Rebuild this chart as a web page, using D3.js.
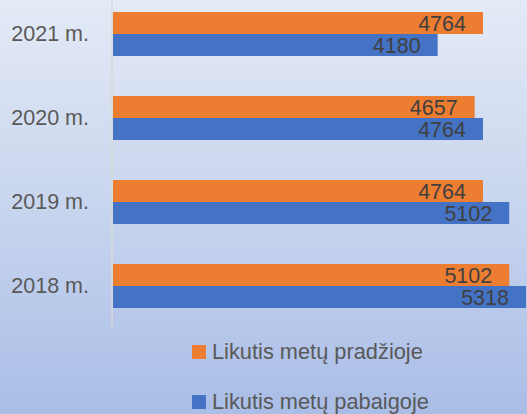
<!DOCTYPE html>
<html>
<head>
<meta charset="utf-8">
<script src="https://cdn.jsdelivr.net/npm/d3@7"></script>
<style>
  html, body { margin: 0; padding: 0; }
  body { width: 527px; height: 414px; overflow: hidden; }
  svg { display: block; font-family: "Liberation Sans", Arial, sans-serif; }
</style>
</head>
<body>
<div id="chart"></div>
<script>
// years, top to bottom as drawn
var categories = ["2021 m.", "2020 m.", "2019 m.", "2018 m."];
var seriesNames = ["Likutis metų pradžioje", "Likutis metų pabaigoje"];
var startValues = [4764, 4657, 4764, 5102];
var endValues = [4180, 4764, 5102, 5318];
var colors = ["#ed7d31", "#4472c4"];

var width = 527, height = 414;
var margin = {top: -8, left: 113, right: 0, bottom: 86};

var svg = d3.select("#chart").append("svg")
    .attr("width", width)
    .attr("height", height);

var defs = svg.append("defs");
var grad = defs.append("linearGradient")
    .attr("id", "bg")
    .attr("x1", 0).attr("y1", 0).attr("x2", 0).attr("y2", 1);
grad.append("stop").attr("offset", "0%").attr("stop-color", "#e4eaf6");
grad.append("stop").attr("offset", "50%").attr("stop-color", "#c8d5ee");
grad.append("stop").attr("offset", "100%").attr("stop-color", "#a9bde6");

svg.append("rect")
    .attr("width", width)
    .attr("height", height)
    .attr("fill", "url(#bg)");

var innerBottom = height - margin.bottom;

var yScale = d3.scaleBand()
    .domain(categories)
    .range([margin.top, innerBottom])
    .paddingInner(0.476)
    .paddingOuter(0.238);

var ySub = d3.scaleBand()
    .domain([0, 1])
    .range([0, yScale.bandwidth()]);

// 5318 reaches the right edge
var xScale = d3.scaleLinear()
    .domain([0, 5318])
    .range([margin.left, 526]);

var rows = categories.map(function (c, i) {
    return {cat: c, vals: [startValues[i], endValues[i]]};
});

var groups = svg.selectAll(".grp")
    .data(rows)
    .enter().append("g")
    .attr("class", "grp")
    .attr("transform", function (d) { return "translate(0," + yScale(d.cat) + ")"; });

var bars = groups.selectAll(".bar")
    .data(function (d) { return d.vals.map(function (v, k) { return {v: v, k: k}; }); })
    .enter();

bars.append("rect")
    .attr("class", "bar")
    .attr("x", xScale(0))
    .attr("y", function (d) { return ySub(d.k); })
    .attr("width", function (d) { return xScale(d.v) - xScale(0); })
    .attr("height", ySub.bandwidth())
    .attr("fill", function (d) { return colors[d.k]; });

bars.append("text")
    .attr("x", function (d) { return xScale(d.v) - 17; })
    .attr("y", function (d) { return ySub(d.k) + ySub.bandwidth() / 2; })
    .attr("dy", "0.36em")
    .attr("text-anchor", "end")
    .attr("font-size", 21.5)
    .attr("fill", "#404040")
    .text(function (d) { return d.v; });

// category axis
var axis = svg.append("g")
    .attr("transform", "translate(" + (margin.left - 1) + ",0)")
    .call(d3.axisLeft(yScale).tickSize(0).tickPadding(23));
axis.select(".domain")
    .attr("d", "M0,0V" + (innerBottom - 1))
    .attr("stroke", "#d9d9d9")
    .attr("stroke-width", 1.5);
axis.selectAll("text")
    .attr("font-size", 21.5)
    .attr("font-family", "Liberation Sans, Arial, sans-serif")
    .attr("fill", "#595959");

// legend
var legend = svg.selectAll(".leg")
    .data(seriesNames)
    .enter().append("g")
    .attr("class", "leg")
    .attr("transform", function (d, i) { return "translate(192," + (345 + i * 50) + ")"; });
legend.append("rect")
    .attr("width", 14)
    .attr("height", 14)
    .attr("fill", function (d, i) { return colors[i]; });
legend.append("text")
    .attr("x", 20)
    .attr("y", 14)
    .attr("font-size", 21.8)
    .attr("fill", "#595959")
    .text(function (d) { return d; });
</script>
</body>
</html>
